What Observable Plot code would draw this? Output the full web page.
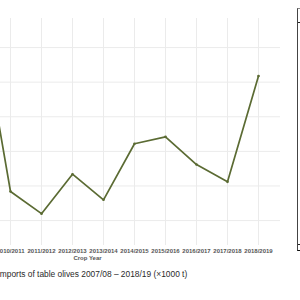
<!DOCTYPE html>
<html><head><meta charset="utf-8">
<script src="https://cdn.jsdelivr.net/npm/d3@7"></script>
<script src="https://cdn.jsdelivr.net/npm/@observablehq/plot@0.6"></script>
<style>
html,body{margin:0;padding:0;background:#fff;width:300px;height:300px;overflow:hidden;position:relative;font-family:"Liberation Sans",Arial,sans-serif}
#chart{position:absolute;left:-106px;top:0}
#caption{position:absolute;left:-2.5px;top:269px;font-size:8.4px;color:#2a2a2a;white-space:nowrap}
#box{position:absolute;left:297px;top:8px;width:20px;height:243px;border-left:1px solid #444;border-top:1px solid #888;border-bottom:1.5px solid #111;box-sizing:border-box}
#box .l1{position:absolute;left:0;right:0;top:13px;height:0;border-top:1.5px solid #222}
#box .l2{position:absolute;left:0;right:0;top:235px;height:0;border-top:1px solid #222}
</style></head><body>
<div id="chart"></div>
<div id="caption"></div>
<div id="box"><div class="l1"></div><div class="l2"></div></div>
<script>
const cropYears = ["2007/2008","2008/2009","2009/2010","2010/2011","2011/2012","2012/2013","2013/2014","2014/2015","2015/2016","2016/2017","2017/2018","2018/2019"];
const imports = [null,null,401,142,110,167,130,211,221,181,156,309];
const yTicks = [100,150,200,250,300,350];
const xLabel = "Crop Year";
const captionText = "Imports of table olives 2007/08 – 2018/19 (×1000 t)";

const data = cropYears.map((year,i)=>({year, value: imports[i]})).filter(d=>d.value!=null);
const plot = Plot.plot({
  width:406, height:262, marginTop:18, marginBottom:17, marginLeft:0, marginRight:20,
  style:{fontFamily:"Liberation Sans, Arial, sans-serif", background:"transparent"},
  x:{type:"point", domain:cropYears, padding:0.595},
  y:{domain:[64,392], axis:null},
  marks:[
    Plot.gridX({stroke:"#ebebeb", strokeOpacity:1}),
    Plot.gridY(yTicks,{stroke:"#ebebeb", strokeOpacity:1}),
    Plot.axisX({tickSize:0, tickPadding:3, fontSize:6, fontWeight:"bold", fill:"#555", label:xLabel, labelAnchor:"center", labelArrow:"none"}),
    Plot.line(data,{x:"year", y:"value", stroke:"#5b6b33", strokeWidth:1.7}),
    Plot.dot(data,{x:"year", y:"value", r:1.3, fill:"#5b6b33"})
  ]
});
document.getElementById("chart").appendChild(plot);
document.getElementById("caption").textContent = captionText;
</script>
</body></html>
